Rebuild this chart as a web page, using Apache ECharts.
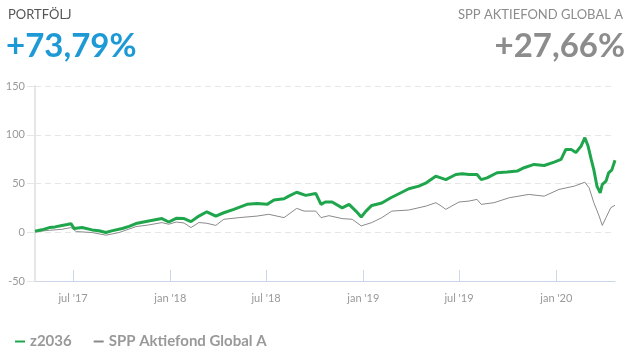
<!DOCTYPE html>
<html><head><meta charset="utf-8">
<script src="https://cdn.jsdelivr.net/npm/echarts@6/dist/echarts.min.js"></script>
<style>html,body{margin:0;padding:0;background:#fff}#c{width:635px;height:356px}</style>
</head><body><div id="c"></div>
<script>
const portfolioName = 'z2036';
const benchmarkName = 'SPP Aktiefond Global A';
const portfolioReturn = '+73,79%';
const benchmarkReturn = '+27,66%';

const greenDates = ['2017-04-20','2017-05-03','2017-05-17','2017-05-28','2017-06-10','2017-06-20','2017-06-27','2017-07-03','2017-07-18','2017-08-06','2017-08-19','2017-09-01','2017-09-12','2017-10-02','2017-10-15','2017-10-28','2017-11-21','2017-12-16','2017-12-29','2018-01-12','2018-01-27','2018-02-09','2018-02-24','2018-03-11','2018-03-28','2018-04-12','2018-05-01','2018-05-26','2018-06-14','2018-07-03','2018-07-16','2018-08-04','2018-08-13','2018-08-28','2018-09-14','2018-10-03','2018-10-13','2018-10-21','2018-11-03','2018-11-22','2018-12-05','2018-12-18','2018-12-28','2019-01-06','2019-01-17','2019-02-05','2019-02-22','2019-03-13','2019-03-28','2019-04-16','2019-04-30','2019-05-18','2019-06-06','2019-06-25','2019-07-07','2019-07-20','2019-08-04','2019-08-12','2019-08-23','2019-09-11','2019-09-30','2019-10-19','2019-11-01','2019-11-20','2019-12-09','2019-12-28','2020-01-10','2020-01-19','2020-01-29','2020-02-07','2020-02-17','2020-02-24','2020-03-01','2020-03-07','2020-03-12','2020-03-18','2020-03-24','2020-03-28','2020-04-04','2020-04-09','2020-04-15','2020-04-21'];
const greenValues = [1,2.5,4.8,5.5,7,8,8.8,3.8,4.8,2.4,1.5,-0.3,1.4,3.8,6,8.9,11.6,14,10.5,14.3,14,10.9,16.6,21,16.6,20,23.5,28.6,29.6,28.6,33,34.4,37,41,37.8,39.8,28.6,31,31,25,28.6,21.7,15.6,21.7,27.5,30,35.4,40.5,44.6,47.3,50.7,57.5,54,59.2,60,59.2,59.2,54,55.8,61,61.7,62.7,66.2,69.6,68.5,72,74.7,85,85,81.7,88.5,97,88.5,74.7,64,47,40.5,49,52.4,61,64,73.79];

const grayDates = ['2017-04-20','2017-05-17','2017-06-10','2017-06-27','2017-07-07','2017-08-06','2017-09-01','2017-09-26','2017-10-28','2017-11-21','2017-12-16','2017-12-29','2018-01-12','2018-01-27','2018-02-09','2018-02-24','2018-03-11','2018-03-28','2018-04-12','2018-05-11','2018-06-14','2018-07-06','2018-08-04','2018-08-28','2018-09-11','2018-10-03','2018-10-13','2018-10-28','2018-11-22','2018-12-11','2018-12-28','2019-01-17','2019-02-05','2019-02-24','2019-03-28','2019-04-30','2019-05-18','2019-05-28','2019-06-06','2019-07-01','2019-07-20','2019-08-04','2019-08-12','2019-09-05','2019-10-04','2019-11-10','2019-12-09','2020-01-06','2020-02-04','2020-02-24','2020-03-03','2020-03-12','2020-03-22','2020-03-28','2020-04-04','2020-04-13','2020-04-21'];
const grayValues = [0.5,2,3,4.8,0.7,-0.3,-3,-0.3,5.8,7.5,9.9,8.2,10.5,9.5,4.8,10,9.2,7,13.3,15,16.6,18.4,15,24.5,21.7,21.7,15,17,14,13.3,6.5,9.9,15,21.7,22.8,26.9,30.3,27,23.5,31,32,33.7,28.6,30.3,35.4,38.8,37,43.9,47.3,51.3,45.6,30.3,16.6,7,15,25.2,27.66];

const xTickDates = ['2017-07-01','2018-01-01','2018-07-01','2019-01-01','2019-07-01','2020-01-01'];
const xTickLabels = ["jul '17","jan '18","jul '18","jan '19","jul '19","jan '20"];

const toTs = s => { const p = s.split('-').map(Number); return Date.UTC(p[0], p[1]-1, p[2]); };
const tickTs = xTickDates.map(toTs);
const labelMap = {}; tickTs.forEach((t,i)=>labelMap[t]=xTickLabels[i]);

const chart = echarts.init(document.getElementById('c'));
const font = 'Lato, "Open Sans", sans-serif';
chart.setOption({
  animation: false,
  textStyle: {fontFamily: font},
  title: [
    {text: 'PORTFÖLJ', left: 3, top: 3, textStyle: {fontSize: 13, fontWeight: 'normal', color: '#555', fontFamily: font}},
    {text: portfolioReturn, left: 1, top: 25, textStyle: {fontSize: 33, fontWeight: 'bold', color: '#1d9ad6', fontFamily: font}},
    {text: 'SPP AKTIEFOND GLOBAL A', right: 7, top: 3, textStyle: {fontSize: 13, fontWeight: 'normal', color: '#8c8c8c', fontFamily: font}},
    {text: benchmarkReturn, right: 5, top: 25, textStyle: {fontSize: 33, fontWeight: 'bold', color: '#8c8c8c', fontFamily: font}}
  ],
  legend: {
    left: 10, top: 329, itemGap: 22, itemWidth: 10, itemHeight: 2, icon: 'rect',
    textStyle: {fontSize: 15, color: '#999', fontWeight: 'bold', fontFamily: font},
    data: [portfolioName, benchmarkName]
  },
  grid: {left: 35, right: 20, top: 86, bottom: 75},
  xAxis: {
    type: 'value', min: toTs('2017-04-20'), max: toTs('2020-04-21'),
    axisLine: {show: true, onZero: false, lineStyle: {color: '#ccd6eb', width: 1}},
    axisTick: {show: true, inside: true, length: 11, customValues: tickTs, lineStyle: {color: '#ccd6eb'}},
    axisLabel: {customValues: tickTs, formatter: v => labelMap[v] || '', color: '#999', fontSize: 11, margin: 12, fontFamily: font},
    splitLine: {show: false}
  },
  yAxis: {
    type: 'value', min: -50, max: 150, interval: 50,
    axisLine: {show: true, lineStyle: {color: '#e6e6e6', width: 2}},
    axisTick: {show: true, length: 8, lineStyle: {color: '#e6e6e6'}},
    axisLabel: {color: '#999', fontSize: 11, margin: 10, fontFamily: font},
    splitLine: {lineStyle: {color: '#e6e6e6', type: [6, 4]}}
  },
  series: [
    {name: portfolioName, type: 'line', showSymbol: false, symbol: 'none', z: 3,
     lineStyle: {color: '#1fa64c', width: 3}, itemStyle: {color: '#1fa64c'},
     data: greenDates.map((d,i)=>[toTs(d), greenValues[i]])},
    {name: benchmarkName, type: 'line', showSymbol: false, symbol: 'none', z: 2,
     lineStyle: {color: '#8a8a8a', width: 1}, itemStyle: {color: '#8a8a8a'},
     data: grayDates.map((d,i)=>[toTs(d), grayValues[i]])}
  ]
});
</script></body></html>
